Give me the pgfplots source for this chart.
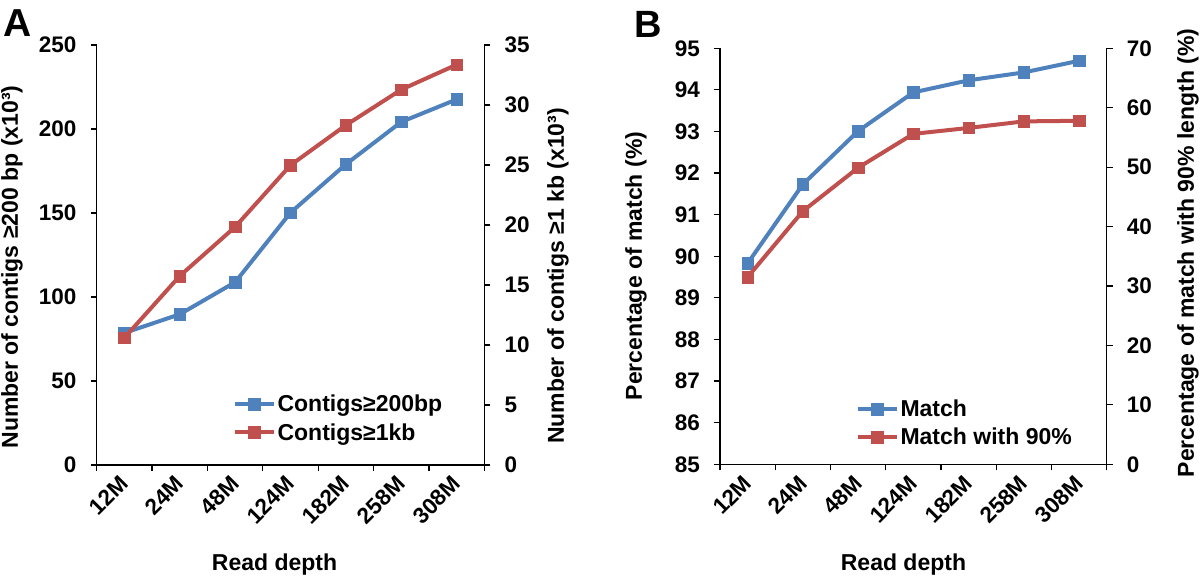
\documentclass[border=0pt]{standalone}
\usepackage{fontspec}
\setmainfont{Liberation Sans}
\newfontfamily\labfont{Liberation Sans}
\usepackage{pgfplots}
\pgfplotsset{compat=1.18}
\definecolor{cblue}{RGB}{79,129,189}
\definecolor{cred}{RGB}{192,80,77}
\newcommand{\tickfont}{\bfseries\fontsize{22.5}{26}\selectfont}
\newcommand{\legfont}{\bfseries\fontsize{23}{27}\selectfont}
\newcommand{\yfont}{\labfont\bfseries\fontsize{23}{27}\selectfont}
\pgfplotsset{
  common/.style={
    scale only axis,
    xmin=0.5, xmax=7.5,
    axis line style={line width=1.2pt, black},
    tick style={line width=1.2pt, black},
    major tick length=6pt,
    tick align=outside,
    /pgf/number format/assume math mode=true,
    ticklabel style={font=\tickfont},
    clip=false,
  },
  bl/.style={color=cblue, line width=4pt, mark=square*, mark size=5.8pt, mark options={line width=0.5pt}},
  rd/.style={color=cred, line width=4pt, mark=square*, mark size=5.8pt, mark options={line width=0.5pt}},
  leg/.style={
    legend style={draw=none, fill=none, font=\legfont, inner sep=0pt, row sep=6pt,
      nodes={inner sep=2pt}, cells={anchor=west}},
    legend image code/.code={\draw[##1, mark repeat=2, mark phase=2] plot coordinates {(0pt,0pt)(19.5pt,0pt)(39pt,0pt)};},
  },
  xlab/.style={
    xtick={0.5,1.5,...,7.5},
    xticklabels={12M,24M,48M,124M,182M,258M,308M,},
    xticklabel style={xshift=27.7pt, yshift=-9pt, rotate=45, anchor=east, inner sep=0pt},
  },
}
\begin{document}
\begin{tikzpicture}
\path[use as bounding box] (0,0) rectangle (1200pt,578pt);
% ---------------- Panel A
\begin{axis}[common, leg, xlab, at={(96.7pt,113pt)}, anchor=south west, width=387.6pt, height=420pt,
  axis x line*=bottom, axis y line*=left,
  ymin=0, ymax=250, ytick={0,50,...,250},
  yticklabel style={inner sep=0pt, xshift=-14pt},
  legend style={at={(0.350,0.111)}, anchor=west},
]
\addplot[bl] coordinates {(1,78.6)(2,89.7)(3,108.8)(4,150.2)(5,179)(6,204.2)(7,217.6)};
\addlegendentry{Contigs≥200bp}
\addlegendimage{rd}
\addlegendentry{Contigs≥1kb}
\end{axis}
\begin{axis}[common, at={(96.7pt,113pt)}, anchor=south west, width=387.6pt, height=420pt,
  axis x line=none, axis y line*=right,
  ymin=0, ymax=35, ytick={0,5,...,35},
  yticklabel style={inner sep=0pt, xshift=14pt},
]
\addplot[rd] coordinates {(1,10.6)(2,15.75)(3,19.84)(4,24.98)(5,28.32)(6,31.28)(7,33.36)};
\end{axis}
% ---------------- Panel B
\begin{axis}[common, leg, xlab, at={(720pt,113.7pt)}, anchor=south west, width=386.7pt, height=416pt,
  axis x line*=bottom, axis y line*=left,
  ymin=85, ymax=95, ytick={85,86,...,95},
  yticklabel style={inner sep=0pt, xshift=-14pt},
  legend style={at={(0.350,0.099)}, anchor=west},
]
\addplot[bl] coordinates {(1,89.83)(2,91.73)(3,93.01)(4,93.94)(5,94.23)(6,94.42)(7,94.7)};
\addlegendentry{Match}
\addlegendimage{rd}
\addlegendentry{Match with 90\%}
\end{axis}
\begin{axis}[common, at={(720pt,113.7pt)}, anchor=south west, width=386.7pt, height=416pt,
  axis x line=none, axis y line*=right,
  ymin=0, ymax=70, ytick={0,10,...,70},
  yticklabel style={inner sep=0pt, xshift=14pt},
]
\addplot[rd] coordinates {(1,31.5)(2,42.6)(3,49.9)(4,55.6)(5,56.6)(6,57.7)(7,57.8)};
\end{axis}
% ---------------- labels
\node[rotate=90, font=\yfont] at (12pt,311pt) {Number of contigs ≥200 bp (x10³)};
\node[rotate=90, font=\yfont] at (558pt,302pt) {Number of contigs ≥1 kb (x10³)};
\node[rotate=90, font=\yfont] at (636pt,312pt) {Percentage of match (\%)};
\node[rotate=90, font=\yfont] at (1188pt,325pt) {Percentage of match with 90\% length (\%)};
\node[font=\legfont] at (274.6pt,13pt) {Read depth};
\node[font=\legfont] at (903.5pt,13pt) {Read depth};
\node[font=\labfont\bfseries\fontsize{39}{43}\selectfont] at (17.5pt,555pt) {A};
\node[font=\labfont\bfseries\fontsize{38}{42}\selectfont] at (648.5pt,554pt) {B};
\end{tikzpicture}
\end{document}
